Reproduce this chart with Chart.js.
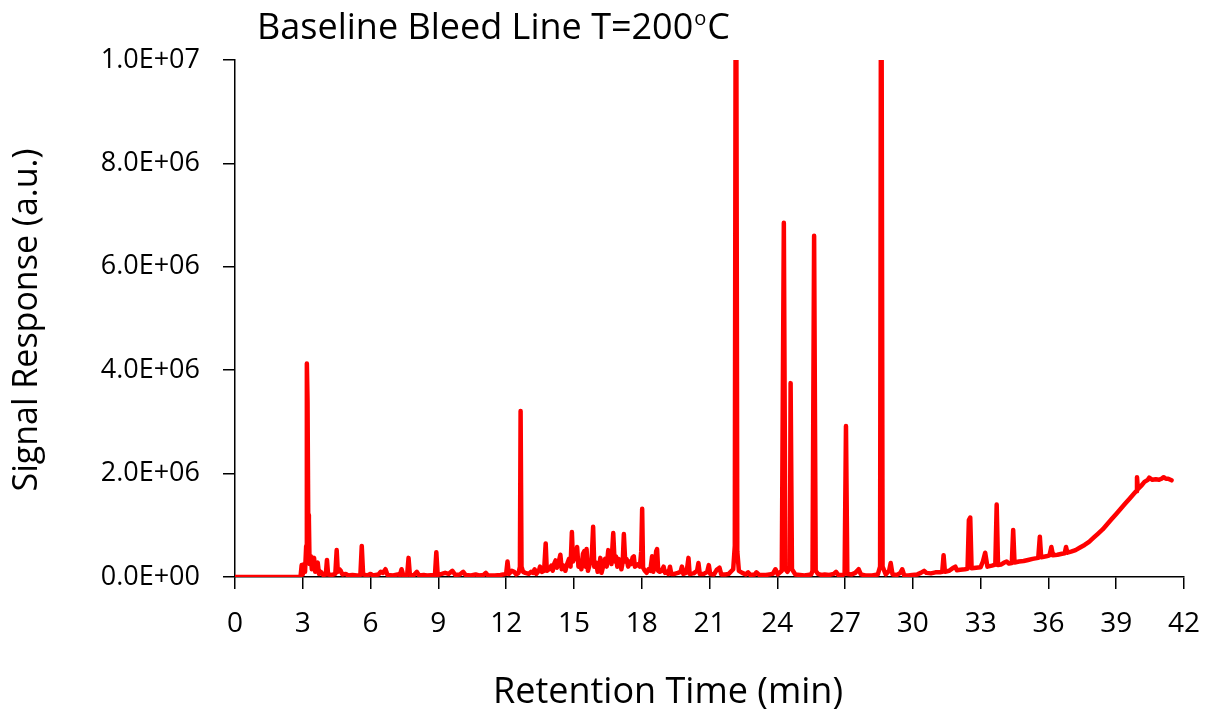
<!DOCTYPE html>
<html>
<head>
<meta charset="utf-8">
<script src="https://cdn.jsdelivr.net/npm/chart.js@4/dist/chart.umd.min.js"></script>
<style>
html,body{margin:0;padding:0;background:#fff;}
#wrap{width:1218px;height:713px;position:relative;}
</style>
</head>
<body>
<div id="wrap"><canvas id="c" width="1218" height="713"></canvas></div>
<script>
// Retention time (min) and signal (millions, a.u.), split into three runs of the trace
const timeEarly = [
0,2.9,2.95,3.0,3.06,3.1,3.15,3.18,3.21,3.24,
3.27,3.3,3.36,3.4,3.46,3.5,3.55,3.6,3.66,3.72,
3.8,3.9,4.02,4.07,4.12,4.3,4.44,4.5,4.55,4.62,
4.68,4.75,4.9,5.0,5.2,5.4,5.55,5.61,5.67,5.85,
6.0,6.1,6.35,6.45,6.55,6.66,6.75,7.0,7.2,7.3,
7.37,7.45,7.62,7.68,7.74,7.9,8.05,8.15,8.35,8.5,
8.85,8.91,8.97,9.15,9.3,9.45,9.62,9.75,9.95,10.1,
10.2,10.45,10.65,10.8,11.0,11.1,11.2,11.5,11.75,12.0,
12.06,12.12,12.25,12.35,12.45,12.55,12.61,12.64,12.68,12.75,
12.85
];
const signalEarly = [
0,0,0.23,0.05,0.25,0.1,0.6,4.13,3.4,1.2,
1.1,0.25,0.4,0.15,0.3,0.37,0.1,0.2,0.28,0.06,
0.1,0.04,0.05,0.33,0.05,0.04,0.06,0.52,0.1,0.15,
0.12,0.05,0.06,0.03,0.04,0.03,0.04,0.6,0.05,0.03,
0.06,0.03,0.05,0.1,0.08,0.15,0.04,0.03,0.05,0.04,
0.15,0.03,0.04,0.37,0.04,0.03,0.1,0.03,0.04,0.03,
0.04,0.48,0.04,0.06,0.08,0.06,0.12,0.04,0.05,0.1,
0.04,0.03,0.05,0.03,0.04,0.08,0.03,0.03,0.04,0.06,
0.3,0.06,0.12,0.1,0.05,0.08,0.2,3.21,0.2,0.1,
0.08
];
const timeMid = [
13.0,13.1,13.2,13.26,13.33,13.45,13.5,13.58,13.68,13.75,
13.8,13.9,14.0,14.06,14.12,14.19,14.25,14.33,14.4,14.46,
14.55,14.62,14.7,14.78,14.85,14.91,14.96,15.02,15.08,15.14,
15.2,15.27,15.33,15.4,15.46,15.51,15.56,15.62,15.7,15.78,
15.85,15.9,15.98,16.05,16.12,16.17,16.22,16.3,16.38,16.45,
16.52,16.6,16.66,16.74,16.8,16.86,16.92,16.98,17.04,17.1,
17.16,17.21,17.27,17.33,17.4,17.46,17.53,17.6,17.65,17.7,
17.77,17.85,17.92,17.98,18.02,18.06,18.14,18.22,18.3,18.38,
18.46,18.51,18.58,18.64,18.68,18.73,18.8,18.88,18.97,19.03,
19.1,19.18,19.25,19.31,19.45,19.6,19.72,19.78,19.84,19.95,
20.02,20.07,20.12,20.3,20.45,20.51,20.57,20.75,20.9,20.97,
21.03,21.2,21.32,21.44,21.52,21.7,21.85
];
const signalMid = [
0.06,0.1,0.08,0.15,0.06,0.12,0.2,0.1,0.12,0.65,
0.12,0.15,0.22,0.12,0.25,0.32,0.18,0.3,0.43,0.15,
0.22,0.12,0.25,0.35,0.2,0.87,0.3,0.45,0.35,0.58,
0.2,0.3,0.15,0.45,0.5,0.2,0.54,0.12,0.25,0.3,
0.97,0.2,0.28,0.1,0.2,0.37,0.08,0.22,0.35,0.2,
0.52,0.4,0.25,0.85,0.3,0.4,0.2,0.35,0.3,0.15,
0.3,0.83,0.3,0.35,0.2,0.3,0.25,0.38,0.4,0.2,
0.22,0.25,0.2,0.5,1.32,0.18,0.12,0.08,0.15,0.12,
0.4,0.1,0.2,0.5,0.54,0.12,0.1,0.12,0.2,0.08,
0.1,0.06,0.2,0.06,0.06,0.08,0.1,0.2,0.06,0.08,
0.2,0.37,0.06,0.07,0.12,0.27,0.06,0.06,0.1,0.23,
0.06,0.05,0.14,0.18,0.05,0.05,0.06
];
const timeLate = [
22.05,22.12,22.17,22.23,22.3,22.45,22.6,22.71,22.8,23.0,
23.08,23.2,23.5,23.8,23.92,24.02,24.2,24.29,24.36,24.45,
24.56,24.59,24.65,24.8,25.0,25.2,25.5,25.56,25.63,25.7,
25.8,25.95,26.1,26.3,26.5,26.6,26.7,26.9,26.98,27.04,
27.1,27.3,27.45,27.6,27.7,27.9,28.2,28.45,28.55,28.6,
28.66,28.8,28.95,29.02,29.1,29.3,29.45,29.53,29.62,29.8,
29.97,30.2,30.35,30.5,30.6,30.8,31.0,31.2,31.3,31.36,
31.42,31.6,31.8,31.88,31.95,32.1,32.3,32.42,32.48,32.54,
32.6,32.8,33.0,33.1,33.2,33.3,33.5,33.65,33.71,33.77,
33.9,34.05,34.15,34.25,34.38,34.44,34.5,34.7,34.9,35.1,
35.3,35.55,35.62,35.68,35.9,36.05,36.13,36.2,36.4,36.6,
36.72,36.78,36.84,37.0,37.2,37.4,37.6,37.8,38.0,38.2,
38.4,38.6,38.8,39.0,39.2,39.4,39.6,39.8,39.88,39.92,
39.96,40.1,40.25,40.4,40.46,40.6,40.75,40.9,41.0,41.1,
41.2,41.3,41.45
];
const signalLate = [
0.15,0.6,15,0.5,0.12,0.08,0.05,0.09,0.04,0.05,
0.09,0.04,0.04,0.06,0.15,0.05,0.12,6.85,0.15,0.1,
0.2,3.75,0.15,0.05,0.04,0.03,0.05,0.12,6.6,0.12,
0.06,0.04,0.05,0.04,0.06,0.1,0.04,0.04,0.06,2.92,
0.06,0.05,0.08,0.15,0.05,0.03,0.03,0.05,0.2,15,
0.2,0.05,0.12,0.27,0.05,0.04,0.08,0.15,0.03,0.03,
0.04,0.05,0.08,0.12,0.08,0.07,0.09,0.09,0.1,0.42,
0.1,0.12,0.18,0.2,0.13,0.14,0.15,0.16,1.1,1.15,
0.17,0.18,0.19,0.3,0.47,0.2,0.22,0.24,1.4,0.23,
0.24,0.28,0.3,0.26,0.27,0.91,0.28,0.3,0.31,0.33,
0.35,0.37,0.78,0.38,0.4,0.42,0.58,0.42,0.43,0.45,
0.46,0.58,0.47,0.49,0.52,0.57,0.62,0.68,0.76,0.84,
0.92,1.02,1.12,1.22,1.32,1.42,1.52,1.62,1.66,1.93,
1.7,1.76,1.84,1.88,1.92,1.88,1.89,1.88,1.9,1.93,
1.9,1.9,1.87
];
const xTicks = [0,3,6,9,12,15,18,21,24,27,30,33,36,39,42];
const yTicks = [0,2e6,4e6,6e6,8e6,1e7];

const chartTitle = 'Baseline Bleed Line T=200';
const titleSup = 'o';
const titleEnd = 'C';
const xTitle = 'Retention Time (min)';
const yTitle = 'Signal Response (a.u.)';

const retentionTime = timeEarly.concat(timeMid, timeLate);
const signalMillions = signalEarly.concat(signalMid, signalLate);
const points = retentionTime.map((t,i)=>({x:t, y:signalMillions[i]*1e6}));
const FONT = '"Open Sans", Lato, sans-serif';
const fmtY = v => v.toExponential(1).toUpperCase().replace(/E([+-])(\d)$/,'E$10$2');

const textPlugin = {
  id:'texts',
  afterDraw(chart){
    const ctx = chart.ctx;
    const ys = chart.scales.y;
    ctx.save();
    ctx.fillStyle = '#000';
    // y tick labels
    ctx.font = '27px ' + FONT;
    ctx.textAlign = 'right';
    ctx.textBaseline = 'middle';
    yTicks.forEach(v => ctx.fillText(fmtY(v), 200, ys.getPixelForValue(v)));
    // title with superscript o
    ctx.textBaseline = 'alphabetic';
    ctx.textAlign = 'left';
    ctx.font = '36px ' + FONT;
    let x = 257, y = 39;
    ctx.fillText(chartTitle, x, y);
    x += ctx.measureText(chartTitle).width;
    ctx.font = '20px ' + FONT;
    ctx.fillText(titleSup, x+1, y-14);
    x += ctx.measureText(titleSup).width + 2;
    ctx.font = '36px ' + FONT;
    ctx.fillText(titleEnd, x, y);
    // x title
    ctx.textAlign = 'center';
    ctx.font = '36px ' + FONT;
    ctx.fillText(xTitle, 668, 703);
    // y title
    ctx.font = '34px ' + FONT;
    ctx.translate(37, 320);
    ctx.rotate(-Math.PI/2);
    ctx.fillText(yTitle, 0, 0);
    ctx.restore();
  }
};

new Chart(document.getElementById('c'), {
  type:'line',
  data:{datasets:[{
    data:points,
    borderColor:'#ff0000',
    borderWidth:4.5,
    pointRadius:0,
    tension:0,
    fill:false,
    borderJoinStyle:'round',
    borderCapStyle:'round',
    clip:0
  }]},
  options:{
    responsive:false,
    animation:false,
    devicePixelRatio:1,
    layout:{padding:{left:0,top:60,right:28,bottom:0}},
    plugins:{legend:{display:false},tooltip:{enabled:false},title:{display:false}},
    scales:{
      x:{
        type:'linear',min:0,max:42,
        afterBuildTicks(s){s.ticks = xTicks.map(v=>({value:v}));},
        afterFit(s){s.height = 136;},
        grid:{drawOnChartArea:false,color:'#000',tickLength:12,lineWidth:1.5},
        border:{color:'#000',width:1.5},
        ticks:{color:'#000',font:{family:FONT,size:28},maxRotation:0,padding:18,autoSkip:false}
      },
      y:{
        min:0,max:1e7,
        afterBuildTicks(s){s.ticks = yTicks.map(v=>({value:v}));},
        afterFit(s){s.width = 235;},
        grid:{drawOnChartArea:false,color:'#000',tickLength:12,lineWidth:1.5},
        border:{color:'#000',width:1.5},
        ticks:{display:false}
      }
    }
  },
  plugins:[textPlugin]
});
</script>
</body>
</html>
